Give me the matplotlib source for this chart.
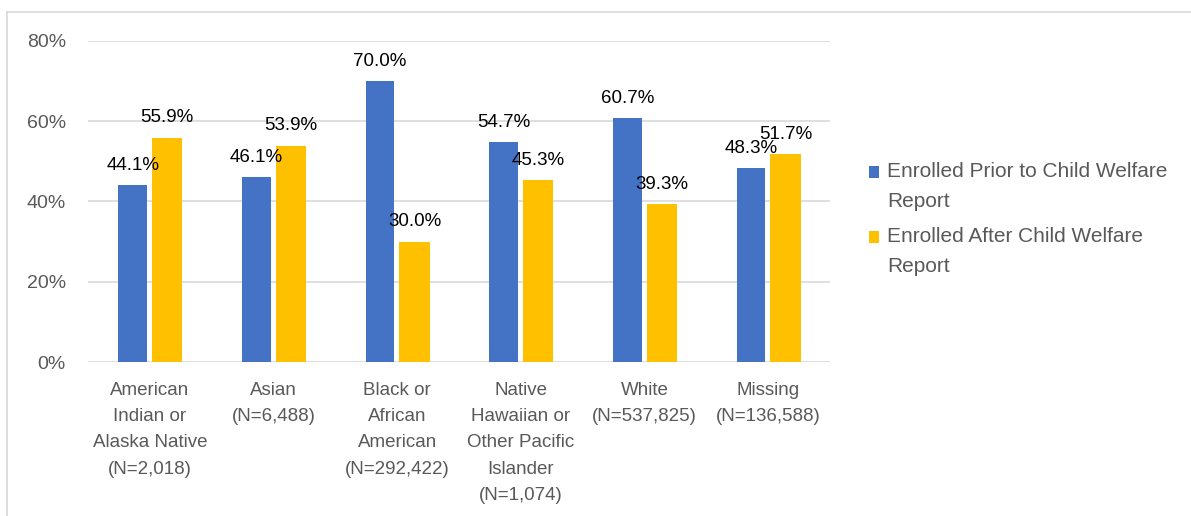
import matplotlib.pyplot as plt
import numpy as np
from matplotlib.lines import Line2D

categories = ['American\nIndian or\nAlaska Native\n(N=2,018)',
              'Asian\n(N=6,488)',
              'Black or\nAfrican\nAmerican\n(N=292,422)',
              'Native\nHawaiian or\nOther Pacific\nIslander\n(N=1,074)',
              'White\n(N=537,825)',
              'Missing\n(N=136,588)']
prior = [44.1, 46.1, 70.0, 54.7, 60.7, 48.3]
after = [55.9, 53.9, 30.0, 45.3, 39.3, 51.7]
series_names = ['Enrolled Prior to Child Welfare\nReport',
                'Enrolled After Child Welfare\nReport']
yticks = [0, 20, 40, 60, 80]

blue = '#4472C4'
gold = '#FFC000'
grey = '#595959'

plt.rcParams['font.family'] = ['Liberation Sans', 'DejaVu Sans']

fig = plt.figure(figsize=(11.91, 5.16), dpi=100)
ax = fig.add_axes([0.074, 0.298, 0.623, 0.623])

x = np.arange(len(categories))
w = 0.23
b1 = ax.bar(x - 0.14, prior, w, color=blue, label=series_names[0], zorder=3)
b2 = ax.bar(x + 0.14, after, w + 0.015, color=gold, label=series_names[1], zorder=3)

for bars, vals in ((b1, prior), (b2, after)):
    for r, v in zip(bars, vals):
        ax.text(r.get_x() + r.get_width() / 2, v + 2.8, '%.1f%%' % v,
                ha='center', va='bottom', fontsize=13.5, color='black')

ax.set_xlim(-0.5, len(categories) - 0.5)
ax.set_ylim(0, 80)
ax.set_yticks(yticks)
ax.set_yticklabels(['%d%%' % t for t in yticks], fontsize=14, color=grey)
ax.set_xticks(x)
ax.set_xticklabels(categories, fontsize=13.5, color=grey, linespacing=1.72)
ax.tick_params(length=0)
ax.tick_params(axis='x', pad=14)
ax.tick_params(axis='y', pad=16)
ax.grid(axis='y', color='#d9d9d9', lw=1.2, zorder=0)
for s in ax.spines.values():
    s.set_visible(False)

leg = ax.legend(loc='center left', bbox_to_anchor=(1.052, 0.445), frameon=False,
                fontsize=15, handlelength=0.5, handleheight=0.5,
                handletextpad=0.4, labelspacing=0.75, labelcolor=grey,
                borderpad=0, borderaxespad=0)
for t in leg.get_texts():
    t.set_linespacing(1.75)
# put the square next to the first line of each label
for h in leg.legend_handles:
    h.set_y(h.get_y() + 10.5)

# chart frame (top and left edges only)
fig.add_artist(Line2D([0.0059, 1.0], [0.9767, 0.9767], transform=fig.transFigure,
                      color='#d9d9d9', lw=1.2))
fig.add_artist(Line2D([0.0059, 0.0059], [0.0, 0.9767], transform=fig.transFigure,
                      color='#d9d9d9', lw=1.2))

fig.savefig('out.png', dpi=100)
